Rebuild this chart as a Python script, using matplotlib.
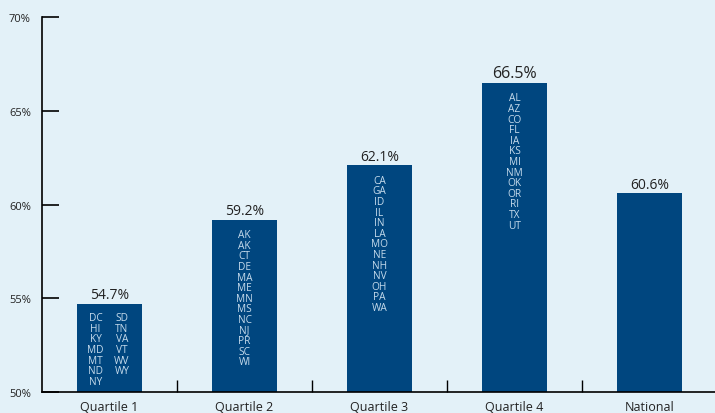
import matplotlib.pyplot as plt

plt.rcParams['font.family'] = ['Open Sans', 'DejaVu Sans']

categories = ["Quartile 1", "Quartile 2", "Quartile 3", "Quartile 4", "National"]
values = [54.7, 59.2, 62.1, 66.5, 60.6]
value_labels = ["54.7%", "59.2%", "62.1%", "66.5%", "60.6%"]

q1_left = ["DC", "HI", "KY", "MD", "MT", "ND", "NY"]
q1_right = ["SD", "TN", "VA", "VT", "WV", "WY"]
q2_states = ["AK", "AK", "CT", "DE", "MA", "ME", "MN", "MS", "NC", "NJ", "PR", "SC", "WI"]
q3_states = ["CA", "GA", "ID", "IL", "IN", "LA", "MO", "NE", "NH", "NV", "OH", "PA", "WA"]
q4_states = ["AL", "AZ", "CO", "FL", "IA", "KS", "MI", "NM", "OK", "OR", "RI", "TX", "UT"]

y_ticks = [50, 55, 60, 65, 70]

bg = "#E3F1F8"
bar_color = "#00467F"
state_color = "#C6DBEC"

fig = plt.figure(figsize=(7.15, 4.14), dpi=100, facecolor=bg)
ax = fig.add_axes([42 / 715, 21 / 414, 1 - 42 / 715, 375 / 414])
ax.set_facecolor(bg)

x = list(range(len(categories)))
ax.bar(x, [v - 50 for v in values], bottom=50, width=0.48, color=bar_color)

ax.set_xlim(-0.5, 4.485)
ax.set_ylim(50, 70)

# value labels above bars
for i, v in enumerate(values):
    size = 11.5 if i == 3 else 10
    ax.annotate(value_labels[i], (i, v), xytext=(0, 1), textcoords="offset points",
                ha="center", va="bottom", fontsize=size, color="#222222")

# state lists inside bars
state_kw = dict(textcoords="offset points", ha="center", va="top", fontsize=7.3,
                color=state_color, linespacing=0.95)
ax.annotate("\n".join(q1_left), (0, values[0]), xytext=(-10, -6), **state_kw)
ax.annotate("\n".join(q1_right), (0, values[0]), xytext=(9, -6), **state_kw)
ax.annotate("\n".join(q2_states), (1, values[1]), xytext=(0, -7), **state_kw)
ax.annotate("\n".join(q3_states), (2, values[2]), xytext=(0, -7), **state_kw)
ax.annotate("\n".join(q4_states), (3, values[3]), xytext=(0, -7), **state_kw)

# axes styling
ax.spines["top"].set_visible(False)
ax.spines["right"].set_visible(False)
ax.spines["left"].set_linewidth(1.2)
ax.spines["bottom"].set_linewidth(1.2)

ax.set_yticks(y_ticks)
ax.set_yticklabels([str(t) + "%" for t in y_ticks])
ax.tick_params(axis="y", direction="in", length=12, width=1.2, labelsize=8,
               labelcolor="#222222", pad=8)

ax.set_xticks(x)
ax.set_xticklabels(categories)
ax.tick_params(axis="x", length=0, labelsize=9, labelcolor="#222222", pad=6)
ax.set_xticks([0.5, 1.5, 2.5, 3.5], minor=True)
ax.tick_params(axis="x", which="minor", direction="in", length=9, width=1)

fig.savefig("out.png", dpi=100, facecolor=bg)
